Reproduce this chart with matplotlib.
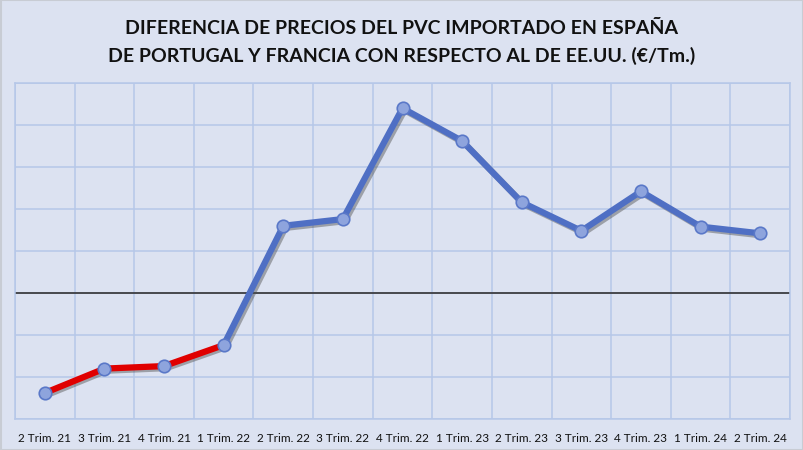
import matplotlib
matplotlib.use("Agg")
import matplotlib.pyplot as plt
import matplotlib.patheffects as pe
import numpy as np

quarters = ["2 Trim. 21", "3 Trim. 21", "4 Trim. 21", "1 Trim. 22", "2 Trim. 22",
            "3 Trim. 22", "4 Trim. 22", "1 Trim. 23", "2 Trim. 23", "3 Trim. 23",
            "4 Trim. 23", "1 Trim. 24", "2 Trim. 24"]
diff = [-119, -90, -87, -62, 80, 88, 220, 181, 108, 74, 121, 79, 71]

bg = "#DCE2F1"
grid_col = "#B6C7E8"
blue = "#4F6FC4"
red = "#E00000"

fig = plt.figure(figsize=(8.04, 4.5), dpi=100, facecolor=bg)
ax = fig.add_axes([15 / 804, 1 - 419 / 450, 775 / 804, 336 / 450])
ax.set_facecolor(bg)

x = np.arange(len(quarters))
shadow = [pe.SimpleLineShadow(offset=(1.5, -1.5), shadow_color="#505050", alpha=0.45), pe.Normal()]

ax.axhline(0, color="#333333", lw=1.2, zorder=2)
ax.plot(x[3:], diff[3:], color=blue, lw=4.5, zorder=3, path_effects=shadow,
        solid_joinstyle="round")
ax.plot(x[:4], diff[:4], color=red, lw=4.5, zorder=4, path_effects=shadow,
        solid_joinstyle="round")
ax.plot(x, diff, ls="none", marker="o", ms=9, mfc="#8EA4DD", mec="#5A78C8",
        mew=1.2, zorder=5)

ax.set_xlim(-0.5, len(quarters) - 0.5)
ax.set_ylim(-150, 250)
ax.set_xticks(np.arange(-0.5, len(quarters), 1), minor=False)
ax.set_xticklabels([])
ax.set_xticks(x, minor=True)
ax.set_xticklabels(quarters, minor=True, fontsize=8.5, family="Lato", color="#111111")
ax.tick_params(axis="x", which="both", length=0, pad=10)
ax.set_yticks(np.arange(-150, 251, 50))
ax.set_yticklabels([])
ax.tick_params(axis="y", length=0)
ax.grid(True, which="major", color=grid_col, lw=1.1)
for s in ax.spines.values():
    s.set_color(grid_col)
    s.set_linewidth(1.1)

fig.text(0.5, 1 - 28 / 450, "DIFERENCIA DE PRECIOS DEL PVC IMPORTADO EN ESPAÑA",
         ha="center", va="center", fontsize=14, fontweight="bold", family="Lato",
         color="#111111")
fig.text(0.5, 1 - 56 / 450, "DE PORTUGAL Y FRANCIA CON RESPECTO AL DE EE.UU. (€/Tm.)",
         ha="center", va="center", fontsize=14, fontweight="bold", family="Lato",
         color="#111111")

fig.patches.append(plt.Rectangle((0.001, 0.001), 0.998, 0.998, transform=fig.transFigure,
                                 fill=False, ec="#C8CCD4", lw=1.5))
fig.savefig("out.png", dpi=100, facecolor=bg)
